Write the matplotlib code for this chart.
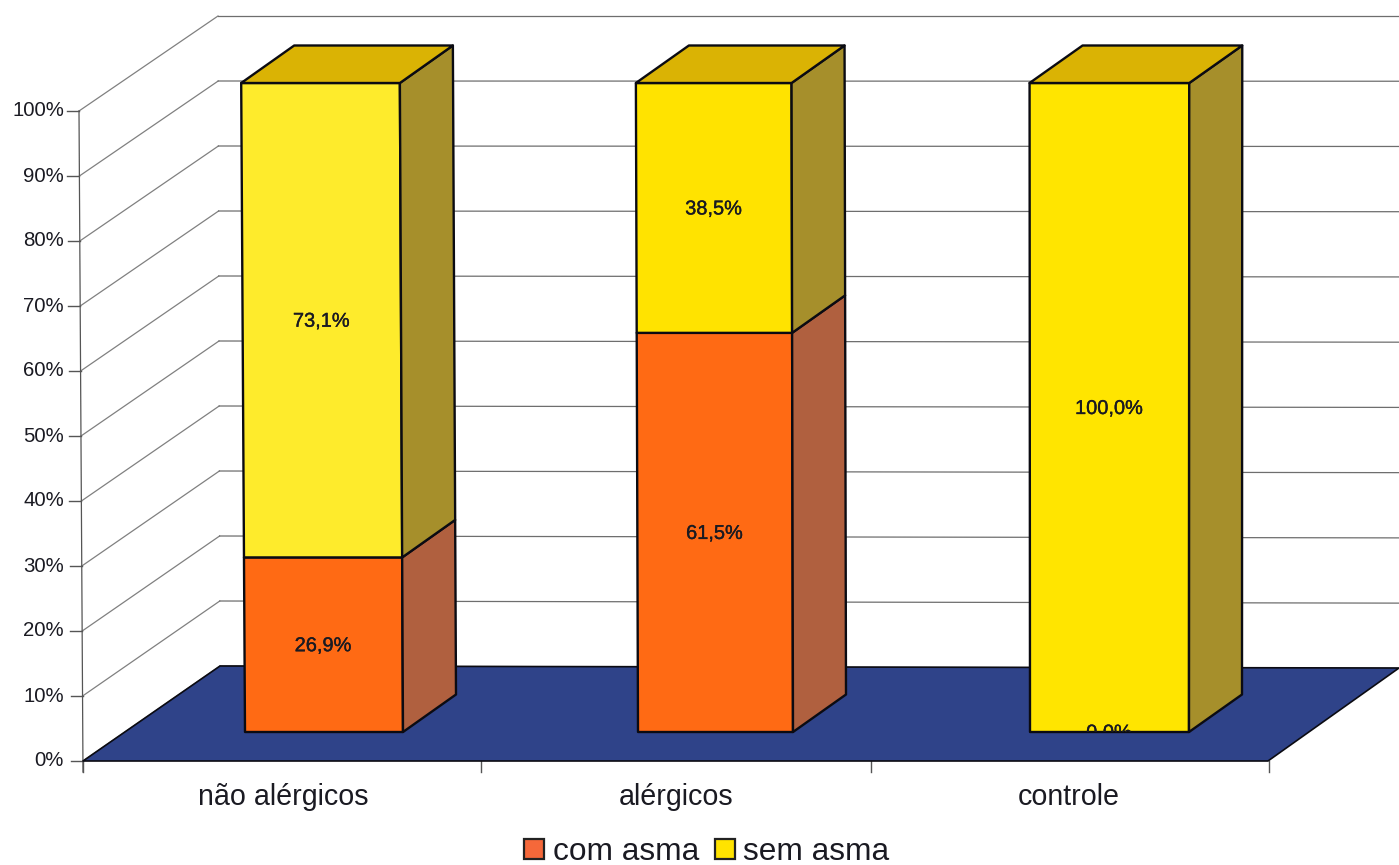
import numpy as np
import matplotlib
matplotlib.use("Agg")
import matplotlib.pyplot as plt
import matplotlib.patheffects as pe
from matplotlib.patches import Polygon, Patch

plt.rcParams['font.family'] = ['Liberation Sans', 'DejaVu Sans']

categories = ['não alérgicos', 'alérgicos', 'controle']
com_asma = [26.9, 61.5, 0.0]
sem_asma = [73.1, 38.5, 100.0]
axis_ticks = [0, 10, 20, 30, 40, 50, 60, 70, 80, 90, 100]

# colours of the faces
orange = '#FF6A14'
orange_side = '#B0603F'
yellow_front = ['#FEEB2C', '#FFE300', '#FFE500']
yellow_side = '#A68F2B'
yellow_top = '#DAB304'
floor_color = '#2F4389'
ink = '#1A1A22'

# layout of the fake 3d box, in pixels
FRONT_Y0, AXIS_Y0, BACK_Y0 = 732, 761, 666
BAR_UNIT, AXIS_UNIT = 6.49, 6.5
AXIS_X0, BACK_X0 = 83, 220
DEPTH_X, DEPTH_Y = 53, -37.5
slot_edges = [83, 481, 871, 1269]
bar_left = [245, 638, 1030]
bar_width = [158, 155, 159]
label_shift = [4, 3, 2]


def lean(x, v):
    # verticals lean a bit, more on the left side of the picture
    return (-4.5 + (x - 83) * 0.0043) * v / 100


def front(x, v):
    return (x + lean(x, v), FRONT_Y0 - BAR_UNIT * v)


def back(p):
    return (p[0] + DEPTH_X, p[1] + DEPTH_Y)


def wall_y(x, v):
    return BACK_Y0 - AXIS_UNIT * v + (x - BACK_X0) * 0.002 * (1 - v / 100)


def face(ax, pts, color, lw=1.7, z=3):
    ax.add_patch(Polygon(pts, closed=True, facecolor=color, edgecolor='#0B0B12',
                         linewidth=lw, joinstyle='round', zorder=z))


def draw_box(ax):
    for v in axis_ticks:
        left = (AXIS_X0 - 4 * v / 100, AXIS_Y0 - AXIS_UNIT * v)
        corner = (BACK_X0 - 2 * v / 100, wall_y(BACK_X0, v))
        ax.plot([left[0], corner[0]], [left[1], corner[1]], color='#808080', lw=0.9, zorder=1)
        ax.plot([corner[0], 1399], [corner[1], wall_y(1399, v)], color='#6E6E6E', lw=0.9, zorder=1)
        ax.plot([left[0] - 12, left[0]], [left[1], left[1]], color='#555555', lw=1.0, zorder=1)
        ax.text(64, left[1], '%d%%' % v, ha='right', va='center', fontsize=14.7, color=ink)
    ax.plot([AXIS_X0, AXIS_X0 - 4], [AXIS_Y0 + 11, AXIS_Y0 - AXIS_UNIT * 100], color='#555555', lw=0.9, zorder=1)

    face(ax, [(AXIS_X0, AXIS_Y0), (BACK_X0, BACK_Y0), (1399, 668), (1268, AXIS_Y0)],
         floor_color, lw=1.2, z=2)
    for x in slot_edges:
        ax.plot([x, x], [AXIS_Y0, AXIS_Y0 + 11], color='#555555', lw=1.0, zorder=1)
    for i, name in enumerate(categories):
        ax.text((slot_edges[i] + slot_edges[i + 1]) / 2 + label_shift[i] - 3, 794, name,
                ha='center', va='center_baseline', fontsize=20.6, color=ink)


def draw_bars(ax):
    for i in range(len(categories)):
        x0 = bar_left[i]
        x1 = x0 + bar_width[i]
        total = com_asma[i] + sem_asma[i]
        outline = Polygon([front(x0, 0), front(x1, 0), front(x1, total), front(x0, total)],
                          closed=True, transform=ax.transData)
        base = 0
        segments = [(com_asma[i], orange, orange_side), (sem_asma[i], yellow_front[i], yellow_side)]
        for value, color, side in segments:
            top = base + value
            if value > 0:
                p = [front(x0, base), front(x1, base), front(x1, top), front(x0, top)]
                face(ax, p, color)
                face(ax, [p[1], back(p[1]), back(p[2]), p[2]], side)
            # the label sits in the middle of its segment and stays inside the bar
            mid = front((x0 + x1) / 2, base + value / 2)
            t = ax.text(mid[0] - 0.5, mid[1] - 1, ('%.1f%%' % value).replace('.', ','), ha='center',
                        va='center_baseline', fontsize=14.4, color=ink, zorder=5, clip_on=True,
                        path_effects=[pe.withStroke(linewidth=0.25, foreground=ink)])
            t.set_clip_path(outline)
            base = top
        a, b = front(x0, base), front(x1, base)
        face(ax, [a, b, back(b), back(a)], yellow_top)


fig = plt.figure(figsize=(13.99, 8.65), dpi=100)
ax = fig.add_axes([0, 0, 1, 1])
ax.set_xlim(0, 1399)
ax.set_ylim(865, 0)
ax.axis('off')

draw_box(ax)
draw_bars(ax)

handles = [Patch(facecolor='#F5683A', edgecolor='#222222', linewidth=1.6, label='com asma'),
           Patch(facecolor='#FFE300', edgecolor='#222222', linewidth=1.6, label='sem asma')]
ax.legend(handles=handles, ncol=2, loc='center', bbox_to_anchor=(707, 852), bbox_transform=ax.transData,
          frameon=False, fontsize=22.8, handlelength=0.62, handleheight=0.62, handletextpad=0.28,
          columnspacing=0.5, labelcolor=ink, borderpad=0)

fig.savefig('out.png', dpi=100)
